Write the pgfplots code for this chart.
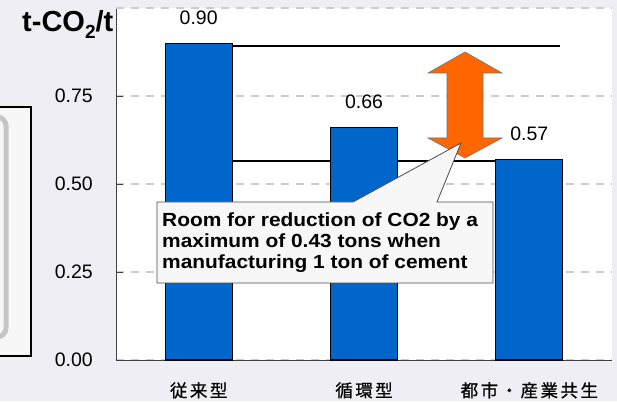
\documentclass[border=0pt]{standalone}
\usepackage{pgfplots}
\pgfplotsset{compat=1.18}
\usepackage{fontspec}
\setmainfont{Liberation Sans}
\newfontfamily\jp{Noto Sans CJK JP}[LetterSpace=14,FakeBold=0.6]
\newfontfamily\callfont{Liberation Sans}[FakeStretch=1.1]
\definecolor{bg}{RGB}{239,238,244}
\definecolor{barblue}{RGB}{0,102,204}
\definecolor{arroworange}{RGB}{255,102,0}
\definecolor{boxfill}{RGB}{247,247,247}
\begin{document}
\begin{tikzpicture}[x=1pt,y=1pt]
\useasboundingbox (0,0) rectangle (617,401);
\fill[bg] (0,0) rectangle (617,401);
\clip (0,0) rectangle (617,401);
% left partial box
\draw[black, line width=1.3pt, fill=boxfill] (-5,45) rectangle (31,294);
\draw[gray!45, line width=5pt, rounded corners=9pt] (-30,64) rectangle (6,284);
\begin{axis}[
  at={(116pt,41pt)}, anchor=south west,
  scale only axis, width=496pt, height=352pt,
  xmin=-0.5, xmax=2.5, ymin=0, ymax=1,
  axis background/.style={fill=white},
  axis x line*=bottom, axis y line*=left,
  axis line style={-, draw=black!75, line width=0.8pt},
  tick align=inside,
  tick style={draw=black!75, line width=0.8pt},
  ytick={0,0.25,0.5,0.75},
  major tick length=7pt,
  extra y ticks={1}, extra y tick labels={},
  extra y tick style={major tick length=0pt},
  ymajorgrids,
  major grid style={draw=black!20, dash pattern=on 8pt off 7pt, line width=1.1pt},
  xtick={0,1,2},
  xticklabels={従来型,循環型,都市・産業共生},
  x tick style={draw=none},
  extra x ticks={0.5,1.5,2.5}, extra x tick labels={},
  extra x tick style={tick style={draw=black!75}, major tick length=5pt},
  /pgf/number format/assume math mode=true,
  yticklabel style={/pgf/number format/fixed, /pgf/number format/fixed zerofill,
    /pgf/number format/precision=2, font=\fontsize{19.5}{19.5}\selectfont,
    anchor=east, inner sep=0pt, xshift=-23pt},
  xticklabel style={font=\jp\fontsize{17.5}{17.5}\selectfont, anchor=base, inner sep=0pt, yshift=-37pt},
  clip=false,
]
\addplot[black, line width=2pt] coordinates {(0,0.893) (2.185,0.893)};
\addplot[black, line width=2pt] coordinates {(0,0.565) (2,0.565)};
\addplot[ybar, bar width=67pt, fill=barblue, draw=black, line width=1.1pt,
  nodes near coords,
  point meta=y,
  every node near coord/.append style={font=\fontsize{19.5}{19.5}\selectfont, inner sep=0pt, yshift=18pt,
    /pgf/number format/fixed, /pgf/number format/fixed zerofill, /pgf/number format/precision=2},
] coordinates {(0,0.90) (1,0.66) (2,0.57)};
\end{axis}
% orange double arrow
\draw[fill=arroworange, draw=black!55, line width=0.6pt]
  (465,349) -- (502,328) -- (483,328) -- (483,263) -- (502,263) -- (465,243)
  -- (428,263) -- (447,263) -- (447,328) -- (428,328) -- cycle;
% callout
\draw[fill=boxfill, draw=black!70, line width=0.8pt]
  (157,199) -- (353,199) -- (461,258) -- (437,199) -- (493,199) -- (493,118) -- (157,118) -- cycle;
\node[anchor=base west, inner sep=0pt, font=\callfont\bfseries\fontsize{19}{19}\selectfont] at (162,174) {Room for reduction of CO2 by a};
\node[anchor=base west, inner sep=0pt, font=\callfont\bfseries\fontsize{19}{19}\selectfont] at (162,153) {maximum of 0.43 tons when};
\node[anchor=base west, inner sep=0pt, font=\callfont\bfseries\fontsize{19}{19}\selectfont] at (162,132) {manufacturing 1 ton of cement};
% title
\node[anchor=base west, inner sep=0pt, font=\bfseries\fontsize{29}{29}\selectfont] at (22,369) {t-CO\raisebox{-7pt}{\fontsize{19}{19}\selectfont 2}/t};
\end{tikzpicture}
\end{document}
